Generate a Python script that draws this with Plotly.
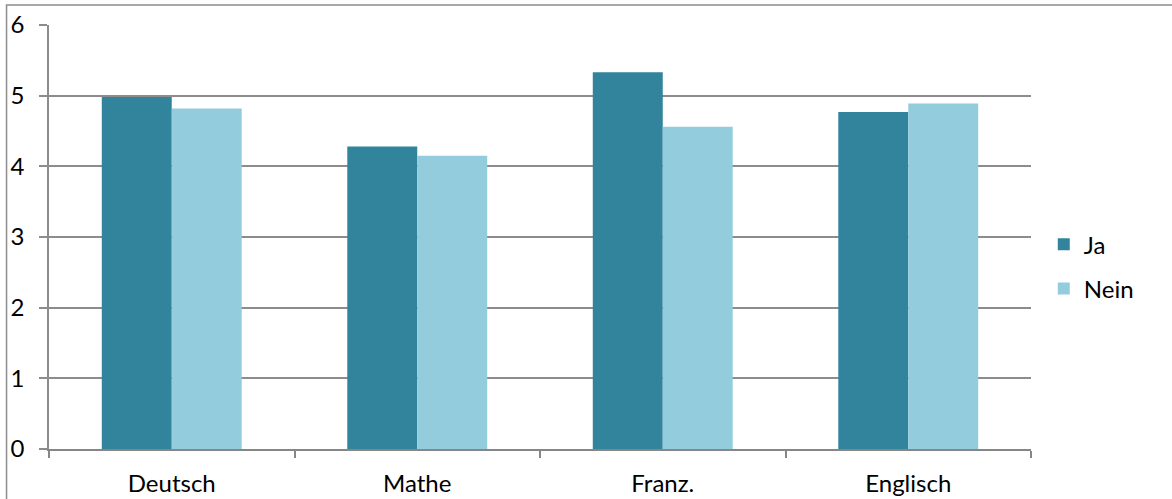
import plotly.graph_objects as go

categories = ["Deutsch", "Mathe", "Franz.", "Englisch"]
ja = [4.98, 4.28, 5.33, 4.77]
nein = [4.82, 4.15, 4.56, 4.89]
y_ticks = [0, 1, 2, 3, 4, 5, 6]

fig = go.Figure()
fig.add_trace(go.Bar(name="Ja", x=categories, y=ja, legendgroup="a",
                     marker=dict(color="#31849B", line=dict(width=0))))
fig.add_trace(go.Bar(name="Nein", x=categories, y=nein, legendgroup="b",
                     marker=dict(color="#93CDDD", line=dict(width=0))))

font = "Lato, 'Open Sans', sans-serif"
fig.update_layout(
    width=1172, height=499,
    margin=dict(l=48.5, r=140.5, t=25, b=50, autoexpand=False),
    paper_bgcolor="white", plot_bgcolor="white",
    barmode="group", bargap=0.43, bargroupgap=0,
    font=dict(family=font, size=24, color="black"),
    legend=dict(x=1.013, y=0.43, xanchor="left", yanchor="middle",
                font=dict(size=24), itemwidth=30, tracegroupgap=10,
                bgcolor="rgba(0,0,0,0)"),
    xaxis=dict(showgrid=False, showline=True, linecolor="#868686", linewidth=2,
               ticks="outside", tickson="boundaries", ticklen=7, tickwidth=1.5,
               tickcolor="#868686", ticklabelstandoff=12, automargin=False),
    yaxis=dict(range=[0, 6], tickvals=y_ticks, showgrid=True, gridcolor="#8c8c8c",
               gridwidth=1.5, showline=True, linecolor="#8c8c8c", linewidth=1.5,
               ticks="outside", ticklen=8, tickwidth=1.5, tickcolor="#8c8c8c",
               zeroline=False, ticklabelstandoff=10, automargin=False),
    shapes=[dict(type="rect", xref="paper", yref="paper",
                 x0=-42.5/983, x1=1.3, y0=-0.3, y1=1 + 20/424,
                 line=dict(color="#8c8c8c", width=1.5), fillcolor="rgba(0,0,0,0)", layer="below")],
)

fig.write_html("out.html", config={"displayModeBar": False},
               post_script="document.body.style.margin='0';")
